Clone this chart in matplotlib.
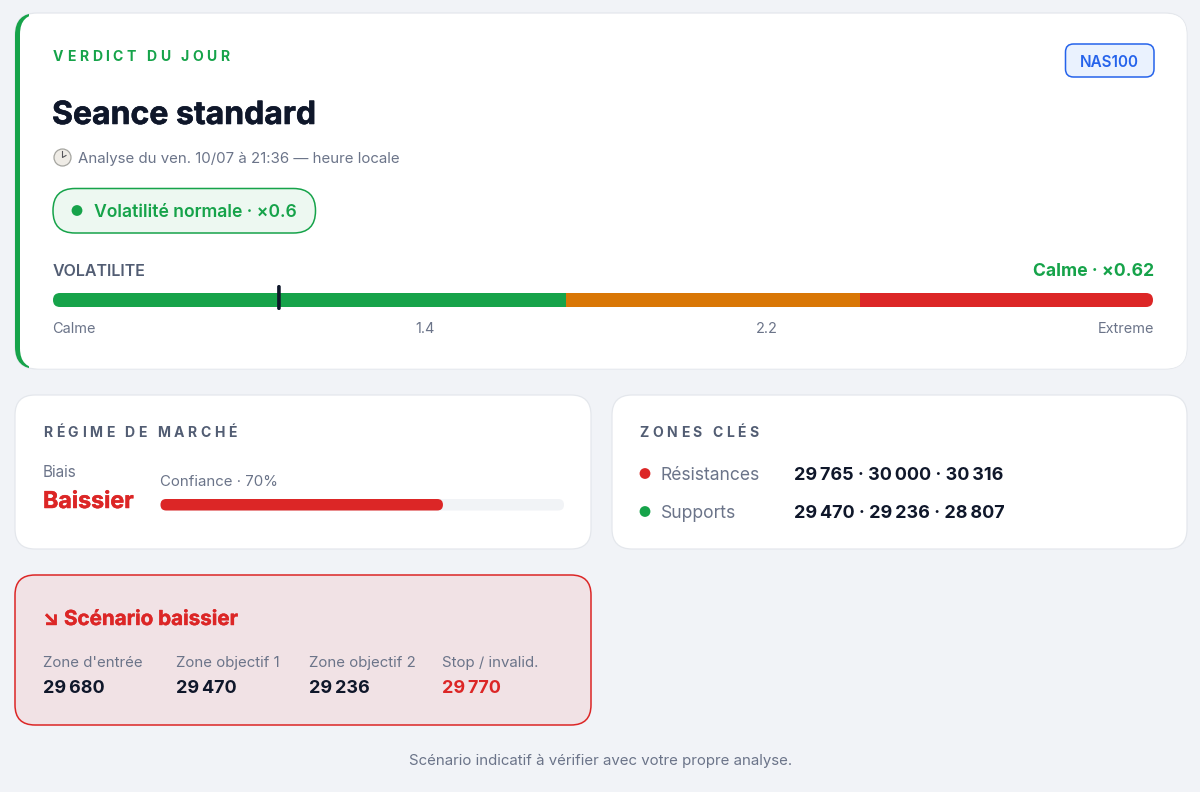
import matplotlib
matplotlib.use('Agg')
import matplotlib.pyplot as plt
import matplotlib.patheffects as pe
from matplotlib.patches import FancyBboxPatch, Rectangle, Circle
from matplotlib.textpath import TextPath
from matplotlib.font_manager import FontProperties

# data
vol_stops = [0, 1.4, 2.2, 3.0]
vol_colors = ['#16a34a', '#d97706', '#dc2626']
vol_value = 0.62
vol_ticks = ['Calme', '1.4', '2.2', 'Extreme']
confidence = 70
resistances = [29765, 30000, 30316]
supports = [29470, 29236, 28807]
scenario_labels = ["Zone d'entrée", 'Zone objectif 1', 'Zone objectif 2', 'Stop / invalid.']
scenario_values = [29680, 29470, 29236, 29770]

BG = '#f1f3f7'
INK = '#0f172a'
SLATE = '#6b7489'
LABEL = '#525d73'
GREEN = '#16a34a'
RED = '#dc2626'
EDGE = '#e4e7ec'
FONT = 'Inter'

fig = plt.figure(figsize=(12, 7.92), dpi=100, facecolor=BG)
ax = fig.add_axes([0, 0, 1, 1])
ax.set_xlim(0, 1200)
ax.set_ylim(792, 0)
ax.axis('off')


def px(size):
    return size * 72 / 100


def box(x0, y0, x1, y1, r, fc, ec='none', lw=0, z=1):
    p = FancyBboxPatch((x0, y0), x1 - x0, y1 - y0, boxstyle=f'round,pad=0,rounding_size={r}',
                       fc=fc, ec=ec, lw=lw, zorder=z, mutation_aspect=1)
    ax.add_patch(p)
    return p


def txt(x, y, s, size, color, weight='normal', ha='left', heavy=0):
    t = ax.text(x, y, s, fontsize=px(size), color=color, fontweight=weight, ha=ha, va='baseline',
                family=FONT, zorder=10)
    if heavy:
        t.set_path_effects([pe.withStroke(linewidth=heavy, foreground=color)])
    return t


def spaced(x, y, s, size, color, weight, gap):
    # css letter-spacing, one char at a time
    fp = FontProperties(family=FONT, weight=weight, size=size)
    bar = TextPath((0, 0), '|', prop=fp).get_extents().x1
    for i, ch in enumerate(s):
        w = TextPath((0, 0), s[:i] + '|', prop=fp).get_extents().x1 - bar if i else 0
        txt(x + w + gap * i, y, ch, size, color, weight)


def num(v):
    return f'{v:,}'.replace(',', '\u2009')


# verdict card
box(15, 13, 1187, 369, 22, 'white', EDGE, 0.9)
green_edge = box(15, 13, 1187, 369, 22, GREEN)
green_edge.set_clip_path(Rectangle((15, 13), 14, 356, transform=ax.transData))
box(20, 14, 1186.5, 368.5, 20, 'white')

spaced(53, 61, 'VERDICT DU JOUR', 14, GREEN, 'bold', 3.5)
txt(52, 124, 'Seance standard', 32, INK, 'bold', heavy=0.4)

# clock
ax.add_patch(Circle((62.5, 157.5), 8.5, fc='#efece6', ec='#a5a5a0', lw=0.9, zorder=5))
ax.plot([62.5, 62.5, 66], [151.5, 157.5, 155.5], color='#55555a', lw=0.8, zorder=6)
txt(78, 163, 'Analyse du ven. 10/07 à 21:36 — heure locale', 15, SLATE)

box(1065.5, 44, 1154, 77, 8, '#eaf2fe', '#2563eb', 1.1)
txt(1109.5, 67, 'NAS100', 15.2, '#2563eb', 'semibold', ha='center')

box(53, 188.5, 315.5, 233, 22, '#edf8f1', GREEN, 1.1)
ax.add_patch(Circle((77, 210.5), 5.4, fc=GREEN, ec='none', zorder=5))
txt(93.5, 217, 'Volatilité normale · ×0.6', 17.6, GREEN, 'semibold')

# volatility bar
txt(53, 275.5, 'VOLATILITE', 16, LABEL, 'semibold')
txt(1154, 275.5, f'Calme · ×{vol_value}', 17.6, GREEN, 'bold', ha='right')
bar_x0, bar_w = 53, 1100
sx = lambda v: bar_x0 + v / vol_stops[-1] * bar_w
clip = FancyBboxPatch((bar_x0, 293), bar_w, 14, boxstyle='round,pad=0,rounding_size=7',
                      transform=ax.transData, fc='none', ec='none')
ax.add_patch(clip)
for a, b, c in zip(vol_stops[:-1], vol_stops[1:], vol_colors):
    seg = ax.barh(300, sx(b) - sx(a), left=sx(a), height=14, color=c, zorder=3)
    seg[0].set_clip_path(clip)
box(sx(vol_value) - 3.2, 285, sx(vol_value) + 0.4, 310, 1.7, INK, z=5)
for tick, x, ha in zip(vol_ticks, [52, 425.5, 766.5, 1154], ['left', 'center', 'center', 'right']):
    txt(x, 333, tick, 14.5, SLATE, ha=ha)

# regime card
box(15, 395, 591, 549, 20, 'white', EDGE, 0.9)
spaced(43, 437, 'RÉGIME DE MARCHÉ', 14, LABEL, 'bold', 3.5)
txt(43, 477, 'Biais', 15.3, SLATE)
txt(43, 508, 'Baissier', 23.2, RED, 'bold', heavy=0.35)
txt(160.5, 486, f'Confiance · {confidence}%', 15, SLATE)
box(160.5, 499, 564, 510.5, 5.7, '#f1f3f6')
conf_w = (564 - 160.5) * confidence / 100
box(160.5, 499, 160.5 + conf_w, 510.5, 5.7, RED, z=3)

# zones card
box(612, 395, 1187, 549, 20, 'white', EDGE, 0.9)
spaced(639.5, 437, 'ZONES CLÉS', 14, LABEL, 'bold', 3.5)
for y, name, color, vals in [(480, 'Résistances', RED, resistances), (518, 'Supports', GREEN, supports)]:
    ax.add_patch(Circle((645, y - 6.5), 5.4, fc=color, ec='none', zorder=5))
    txt(661, y, name, 17.5, SLATE)
    txt(794.5, y, ' · '.join(num(v) for v in vals), 18, INK, 'bold')

# scenario card
box(15, 575, 591, 725, 20, '#f1e2e5', RED, 1.1)
txt(43, 625, '↘ Scénario baissier', 20.6, RED, 'bold', heavy=0.3)
for x, lab, val, col in zip([43, 176, 309, 442], scenario_labels, scenario_values, [INK, INK, INK, RED]):
    txt(x, 667, lab, 15, SLATE)
    txt(x, 693, num(val), 18, col, 'bold')

txt(601, 765, 'Scénario indicatif à vérifier avec votre propre analyse.', 15, SLATE, ha='center')

fig.savefig('out.png', dpi=100, facecolor=BG)
